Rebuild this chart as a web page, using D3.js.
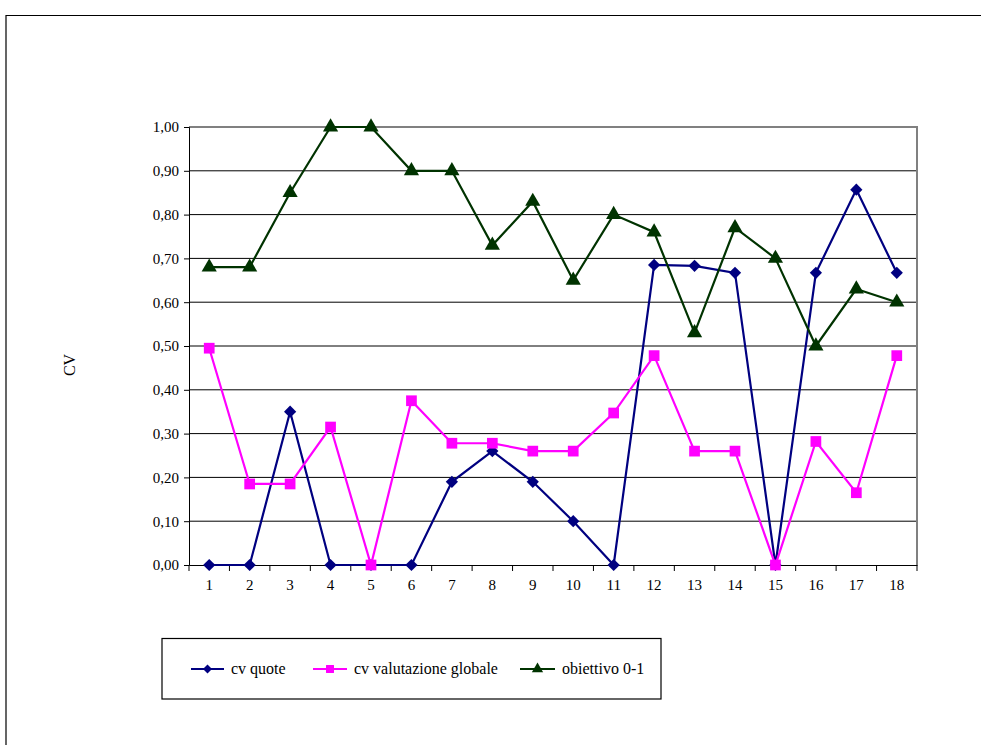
<!DOCTYPE html>
<html><head><meta charset="utf-8">
<script src="https://cdn.jsdelivr.net/npm/d3@7"></script>
<style>body{margin:0;background:#fff}svg{display:block}svg text{font-family:'Liberation Serif','Times New Roman',serif !important;fill:#000}</style>
</head><body><svg id="c" width="981" height="745"></svg>
<script>
const categories = [1,2,3,4,5,6,7,8,9,10,11,12,13,14,15,16,17,18];
const cvQuote = [0,0,0.35,0,0,0,0.19,0.26,0.19,0.10,0,0.685,0.683,0.667,0,0.667,0.857,0.667];
const cvValutazione = [0.495,0.185,0.185,0.315,0,0.375,0.278,0.278,0.26,0.26,0.347,0.478,0.26,0.26,0,0.282,0.165,0.478];
const obiettivo = [0.68,0.68,0.85,1.0,1.0,0.9,0.9,0.73,0.83,0.65,0.80,0.76,0.53,0.77,0.70,0.50,0.63,0.60];
const yTicks = [0,0.1,0.2,0.3,0.4,0.5,0.6,0.7,0.8,0.9,1.0];
const seriesNames = ["cv quote","cv valutazione globale","obiettivo 0-1"];

const svg = d3.select("#c");
svg.append("path").attr("d","M6,760 V15.5 H990").attr("fill","none").attr("stroke","#000").attr("stroke-width",1.2);

const L=189, R=917, T=127, B=565;
const x = d3.scaleBand().domain(categories).range([L,R]);
const y = d3.scaleLinear().domain([0,1]).range([B,T]);

svg.append("g").selectAll("line").data(yTicks.filter(d=>d>0&&d<1)).join("line")
  .attr("x1",L).attr("x2",R).attr("y1",d=>y(d)).attr("y2",d=>y(d)).attr("stroke","#000").attr("stroke-width",1);
svg.append("path").attr("d",`M${L},${y(1)} H${R} V${B}`).attr("fill","none").attr("stroke","#808080").attr("stroke-width",2);

const ya = svg.append("g").attr("transform",`translate(${L},0)`)
  .call(d3.axisLeft(y).tickValues(yTicks).tickSize(5).tickPadding(5).tickFormat(d=>d3.format(".2f")(d).replace(".",",")));
ya.select(".domain").attr("stroke","#000");
ya.selectAll("text").style("font-size","15px");
const xa = svg.append("g").attr("transform",`translate(0,${B})`)
  .call(d3.axisBottom(x).tickSize(0).tickPadding(14));
xa.select(".domain").attr("stroke","#000").attr("stroke-width",1.2);
xa.selectAll("text").style("font-size","15px");
svg.append("g").selectAll("line").data(d3.range(categories.length+1)).join("line")
  .attr("x1",i=>L+i*x.step()).attr("x2",i=>L+i*x.step()).attr("y1",B).attr("y2",B+6).attr("stroke","#000");

svg.append("text").attr("transform","translate(75,365) rotate(-90)").attr("text-anchor","middle")
  .style("font-size","16px").text("CV");

const cx = d=>x(d)+x.bandwidth()/2;
const series = [
  {name:seriesNames[0], vals:cvQuote, color:"#000080", sym:d3.symbolSquare, size:75, rot:45},
  {name:seriesNames[1], vals:cvValutazione, color:"#FF00FF", sym:d3.symbolSquare, size:115, rot:0},
  {name:seriesNames[2], vals:obiettivo, color:"#003300", sym:d3.symbolTriangle, size:100, rot:0}
];
const line = d3.line().x((d,i)=>cx(categories[i])).y(d=>y(d));
series.forEach(s=>{
  svg.append("path").attr("d",line(s.vals)).attr("fill","none").attr("stroke",s.color).attr("stroke-width",2.2);
  svg.append("g").selectAll("path").data(s.vals).join("path")
    .attr("transform",(d,i)=>`translate(${cx(categories[i])},${y(d)}) rotate(${s.rot})`)
    .attr("d",d3.symbol(s.sym,s.size)).attr("fill",s.color);
});

svg.append("rect").attr("x",162).attr("y",638.5).attr("width",499).attr("height",60.5)
  .attr("fill","none").attr("stroke","#000").attr("stroke-width",1.2);
const legPos = [[191,231],[313,354],[520,562]];
series.forEach((s,i)=>{
  const [lx,tx]=legPos[i]; const ly=669;
  svg.append("line").attr("x1",lx).attr("x2",tx-7).attr("y1",ly).attr("y2",ly).attr("stroke",s.color).attr("stroke-width",2.2);
  svg.append("path").attr("transform",`translate(${(lx+tx-7)/2},${ly}) rotate(${s.rot})`).attr("d",d3.symbol(s.sym,s.size*0.55)).attr("fill",s.color);
  svg.append("text").attr("x",tx).attr("y",ly+5).style("font-size","16px").text(s.name);
});
</script></body></html>
